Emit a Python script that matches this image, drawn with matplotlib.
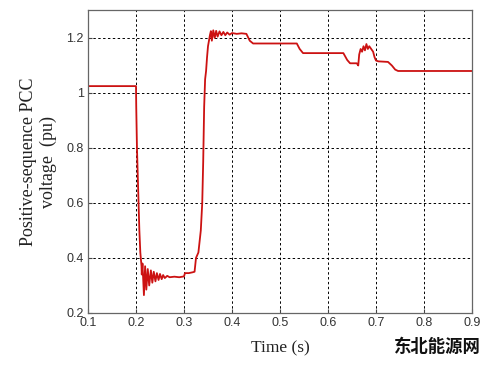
import matplotlib
matplotlib.use("Agg")
import matplotlib.pyplot as plt

# Data (time in s, positive-sequence voltage in pu)
time_s = [
    0.100, 0.200, 0.2005, 0.202, 0.205, 0.207, 0.209, 0.210, 0.2115,
    0.212, 0.2135, 0.2165, 0.219, 0.2215, 0.2245, 0.2275, 0.231, 0.234,
    0.237, 0.2405, 0.2435, 0.247, 0.250, 0.2535, 0.2565, 0.260, 0.265,
    0.270, 0.280, 0.290, 0.300, 0.302, 0.310, 0.318, 0.322, 0.325, 0.330,
    0.335, 0.338, 0.340, 0.342, 0.344, 0.346, 0.348, 0.350, 0.352, 0.354,
    0.356, 0.358, 0.361, 0.364, 0.367, 0.370, 0.374, 0.378, 0.382, 0.386,
    0.390, 0.395, 0.400, 0.410, 0.420, 0.430, 0.437, 0.444, 0.535, 0.541,
    0.548, 0.632, 0.640, 0.646, 0.660, 0.663, 0.665, 0.668, 0.671, 0.674,
    0.677, 0.680, 0.683, 0.686, 0.690, 0.694, 0.697, 0.700, 0.705, 0.725,
    0.733, 0.740, 0.746, 0.900,
]
voltage_pu = [
    1.025, 1.025, 0.95, 0.80, 0.62, 0.50, 0.42, 0.40, 0.37,
    0.34, 0.38, 0.265, 0.37, 0.285, 0.36, 0.30, 0.355, 0.31,
    0.35, 0.315, 0.345, 0.32, 0.342, 0.323, 0.338, 0.327, 0.335,
    0.330, 0.332, 0.330, 0.333, 0.345, 0.345, 0.348, 0.350, 0.40, 0.42,
    0.50, 0.60, 0.75, 0.95, 1.05, 1.08, 1.13, 1.17, 1.19, 1.21,
    1.225, 1.19, 1.228, 1.20, 1.226, 1.205, 1.224, 1.21, 1.222, 1.21,
    1.22, 1.212, 1.218, 1.215, 1.217, 1.215, 1.19, 1.18, 1.18, 1.16,
    1.145, 1.145, 1.12, 1.108, 1.108, 1.10, 1.14, 1.16, 1.15, 1.17,
    1.155, 1.178, 1.16, 1.17, 1.16, 1.15, 1.13, 1.118, 1.115, 1.113,
    1.10, 1.085, 1.08, 1.08,
]
x_ticks = [0.1, 0.2, 0.3, 0.4, 0.5, 0.6, 0.7, 0.8, 0.9]
y_ticks = [0.2, 0.4, 0.6, 0.8, 1.0, 1.2]
y_tick_labels = ["0.2", "0.4", "0.6", "0.8", "1", "1.2"]

fig = plt.figure(figsize=(5.0, 3.68), dpi=100)
ax = fig.add_axes([0.176, 0.1495, 0.768, 0.822])

ax.plot(time_s, voltage_pu, color="#cc1212", linewidth=1.3)

ax.set_xlim(0.1, 0.9)
ax.set_ylim(0.2, 1.3)
ax.set_xticks(x_ticks)
ax.set_xticklabels([f"{t:g}" for t in x_ticks])
ax.set_yticks(y_ticks)
ax.set_yticklabels(y_tick_labels)

ax.grid(True, color="black", linestyle=(0, (2.5, 2.5)), linewidth=0.7)
ax.tick_params(direction="in", length=3, labelsize=9, colors="#444444",
               labelcolor="#333333", pad=3)
for label in ax.get_xticklabels() + ax.get_yticklabels():
    label.set_family("Liberation Sans")
for spine in ax.spines.values():
    spine.set_color("#666666")
    spine.set_linewidth(0.9)

ax.set_xlabel("Time (s)", family="Liberation Serif", fontsize=12.5,
              color="#222222", labelpad=8)
ax.set_ylabel("Positive-sequence PCC\nvoltage  (pu)", family="Liberation Serif",
              fontsize=13, color="#222222", labelpad=7, linespacing=1.2)

# Watermark at bottom right
fig.text(0.874, 0.057, "东北能源网", family=["Noto Sans CJK SC", "DejaVu Sans"],
         fontsize=12.5, fontweight="bold", color="#111111",
         ha="center", va="center")

fig.savefig("out.png", dpi=100)
